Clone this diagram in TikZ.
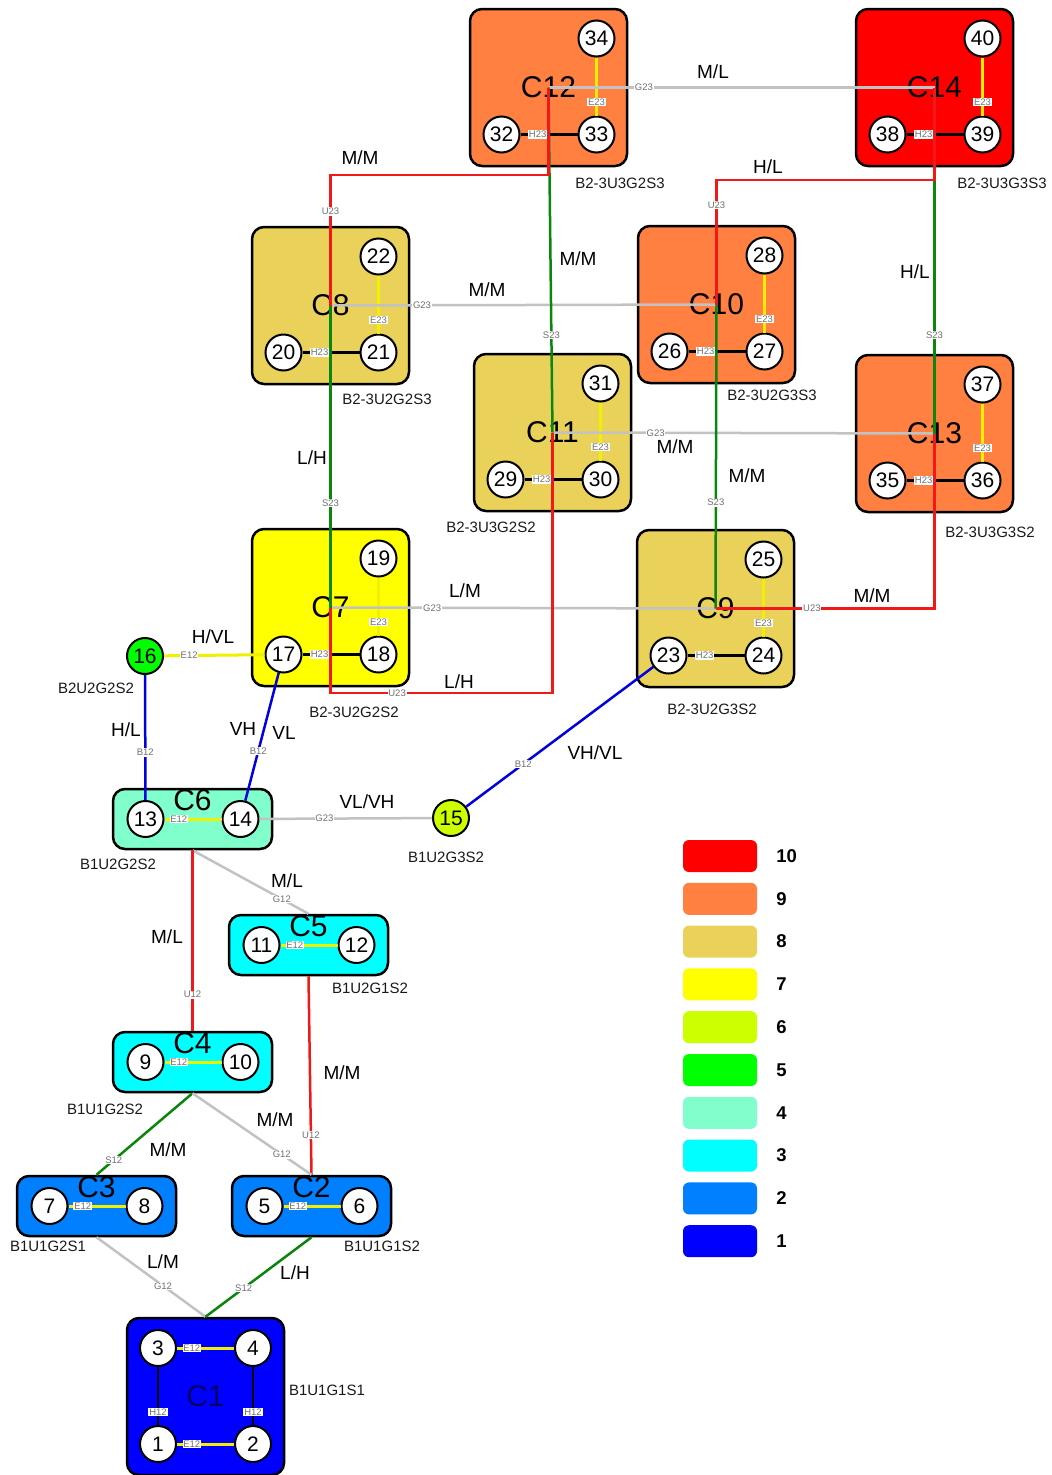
\documentclass[tikz,border=0pt]{standalone}
\usepackage{fontspec}
\setmainfont{Liberation Sans}
\usetikzlibrary{positioning,calc}
\definecolor{lvTen}{HTML}{FF0000}
\definecolor{lvNine}{HTML}{FF8040}
\definecolor{lvEight}{HTML}{EAD25A}
\definecolor{lvSeven}{HTML}{FFFF00}
\definecolor{lvSix}{HTML}{CCFF00}
\definecolor{lvFive}{HTML}{00FF00}
\definecolor{lvFour}{HTML}{80FFCC}
\definecolor{lvThree}{HTML}{00FFFF}
\definecolor{lvTwo}{HTML}{0080FF}
\definecolor{lvOne}{HTML}{0000FF}
\definecolor{lnRed}{HTML}{F01818}
\definecolor{lnGreen}{HTML}{0A870A}
\definecolor{lnBlue}{HTML}{0000E0}
\definecolor{lnGray}{HTML}{C2C2C2}
\definecolor{lnYellow}{HTML}{F0F000}
\definecolor{tagink}{HTML}{707070}
\tikzset{
  sqbox/.style={draw=black,line width=2.5pt,rounded corners=12pt,minimum width=157pt,
    minimum height=157pt,inner sep=0pt,font=\fontsize{30}{32}\selectfont},
  widebox/.style={sqbox,minimum width=159pt,minimum height=60pt},
  ctitle/.style={font=\fontsize{30}{32}\selectfont,inner sep=0pt},
  vtx/.style={circle,draw=black,line width=2pt,fill=white,minimum size=36pt,inner sep=0pt,
    font=\fontsize{21}{22}\selectfont},
  etag/.style={fill=white,text=tagink,inner sep=0.8pt,font=\fontsize{9.5}{10}\selectfont},
  rel/.style={font=\fontsize{19}{20}\selectfont,inner sep=0pt},
  idtext/.style={font=\fontsize{15}{16}\selectfont,text=black!90,inner sep=0pt},
  grayl/.style={draw=lnGray,line width=2.5pt},
  redl/.style={draw=lnRed,line width=2.5pt},
  greenl/.style={draw=lnGreen,line width=2.5pt},
  bluel/.style={draw=lnBlue,line width=2.5pt},
  eline/.style={draw=lnYellow,line width=3pt},
  hbar/.style={draw=black,line width=2.5pt},
  legbox/.style={rounded corners=6pt,minimum width=74pt,minimum height=32pt,inner sep=0pt},
  legnum/.style={font=\fontsize{18.5}{20}\selectfont\bfseries,inner sep=0pt},
}
\begin{document}
\begin{tikzpicture}[x=1pt,y=-1pt]
  \useasboundingbox (0,0) rectangle (1052,1475);
  % square boxes, three nodes each
  \foreach \k/\px/\py/\col/\a/\b/\c in {12/548.5/87.5/lvNine/32/33/34, 14/934.5/87.5/lvTen/38/39/40,
      8/330.5/305.5/lvEight/20/21/22, 10/716.5/304.5/lvNine/26/27/28, 11/552.5/432.5/lvEight/29/30/31,
      13/934.5/433.5/lvNine/35/36/37, 7/330.5/607.5/lvSeven/17/18/19, 9/715.5/608.5/lvEight/23/24/25}{
    \node[sqbox,fill=\col] (c\k) at (\px,\py) {C\k};
    \node[vtx] (n\a) at ($(c\k)+(-47,47)$) {\a};
    \node[vtx] (n\b) at ($(c\k)+(48,47)$) {\b};
    \node[vtx] (n\c) at ($(c\k)+(48,-49)$) {\c};
    \draw[eline] (n\c) -- node[etag,pos=.77]{E23} (n\b);
    \draw[hbar] (n\a) -- node[etag,pos=.3]{H23} (n\b);
  }
  % wide boxes, two nodes each
  \foreach \k/\px/\py/\col/\a/\b in {6/192.5/819/lvFour/13/14, 5/308.5/945/lvThree/11/12,
      4/192.5/1062/lvThree/9/10, 3/96.5/1206/lvTwo/7/8, 2/311.5/1206/lvTwo/5/6}{
    \node[widebox,fill=\col] (c\k) at (\px,\py) {};
    \node[ctitle] (t\k) at ($(c\k)+(0,-18.5)$) {C\k};
    \node[vtx] (n\a) at ($(c\k)+(-47,0)$) {\a};
    \node[vtx] (n\b) at ($(c\k)+(48,0)$) {\b};
    \draw[eline] (n\a) -- node[etag,pos=.25]{E12} (n\b);
  }
  % C1
  \node[sqbox,fill=lvOne,text=lvOne!40!black] (c1) at (205.5,1396.5) {C1};
  \node[vtx] (n3) at ($(c1)+(-47.5,-48.5)$) {3};
  \node[vtx] (n4) at ($(c1)+(47.5,-48.5)$) {4};
  \node[vtx] (n1) at ($(c1)+(-47.5,47.5)$) {1};
  \node[vtx] (n2) at ($(c1)+(47.5,47.5)$) {2};
  \draw[eline] (n3) -- node[etag,pos=.26]{E12} (n4);
  \draw[eline] (n1) -- node[etag,pos=.26]{E12} (n2);
  \draw[hbar] (n3) -- node[etag,pos=.78]{H12} (n1);
  \draw[hbar] (n4) -- node[etag,pos=.78]{H12} (n2);
  % single nodes
  \node[vtx,fill=lvFive] (n16) at (145,656) {16};
  \node[vtx,fill=lvSix] (n15) at (451,818) {15};

  % links between boxes
  \draw[grayl] (c12.center) -- node[etag,pos=.247]{G23} (c14.center);
  \draw[grayl] (c8.center) -- node[etag,pos=.237]{G23} (c10.center);
  \draw[grayl] (c11.center) -- node[etag,pos=.27]{G23} (c13.center);
  \draw[grayl] (c7.center) -- node[etag,pos=.264]{G23} (c9.center);
  \draw[greenl] (c12.center) -- node[etag,pos=.717]{S23} (c11.center);
  \draw[greenl] (c14.center) -- node[etag,pos=.715]{S23} (c13.center);
  \draw[greenl] (c8.center) -- node[etag,pos=.654]{S23} (c7.center);
  \draw[greenl] (c10.center) -- node[etag,pos=.652]{S23} (c9.center);
  \draw[redl] (c12.center) -- ++(0,87.5) -| node[etag,pos=.64]{U23} (c8.center);
  \draw[redl] (c14.center) -- ++(0,92.5) -| node[etag,pos=.6]{U23} (c10.center);
  \draw[redl] (c11.center) -- ++(0,260.5) -| node[etag,pos=.35]{U23} (c7.center);
  \draw[redl] (c13.center) |- node[etag,pos=.78]{U23} (c9.center);
  \draw[eline] (n16) -- node[etag,pos=.25]{E12} (n17);
  \draw[bluel] (n16) -- node[etag,pos=.62]{B12} (n13);
  \draw[bluel] (n17) -- node[etag,pos=.61]{B12} (n14);
  \draw[grayl] (n14) -- node[etag,pos=.376]{G23} (n15);
  \draw[bluel] (n15) -- node[etag,pos=.305]{B12} (n23);
  \draw[grayl] (c6.south) -- node[etag,pos=.77]{G12} (c5.north);
  \draw[redl] (c6.south) -- node[etag,pos=.8]{U12} (c4.north);
  \draw[redl] (c5.south) -- node[etag,pos=.8]{U12} (c2.north);
  \draw[greenl] (c4.south) -- node[etag,pos=.82]{S12} (c3.north);
  \draw[grayl] (c4.south) -- node[etag,pos=.75]{G12} (c2.north);
  \draw[grayl] (c3.south) -- node[etag,pos=.61]{G12} (c1.north);
  \draw[greenl] (c2.south) -- node[etag,pos=.64]{S12} (c1.north);

  % link values
  \node[rel] (r1) at (713,72) {M/L};
  \node[rel] (r2) at (360,158) {M/M};
  \node[rel] (r3) at (578,259) {M/M};
  \node[rel] (r4) at (768,167) {H/L};
  \node[rel] (r5) at (915,272) {H/L};
  \node[rel] (r6) at (487,290) {M/M};
  \node[rel] (r7) at (312,458) {L/H};
  \node[rel] (r8) at (675,447) {M/M};
  \node[rel] (r9) at (747,476) {M/M};
  \node[rel] (r10) at (459,682) {L/H};
  \node[rel] (r11) at (872,596) {M/M};
  \node[rel] (r12) at (465,591) {L/M};
  \node[rel] (r13) at (213,637) {H/VL};
  \node[rel] (r14) at (126,730) {H/L};
  \node[rel] (r15) at (243,729) {VH};
  \node[rel] (r16) at (284,733) {VL};
  \node[rel] (r17) at (367,802) {VL/VH};
  \node[rel] (r18) at (595,753) {VH/VL};
  \node[rel] (r19) at (287,881) {M/L};
  \node[rel] (r20) at (167,937) {M/L};
  \node[rel] (r21) at (342,1073) {M/M};
  \node[rel] (r22) at (275,1120) {M/M};
  \node[rel] (r23) at (168,1150) {M/M};
  \node[rel] (r24) at (163,1262) {L/M};
  \node[rel] (r25) at (295,1273) {L/H};

  % box ids
  \foreach \k/\px/\py/\txt in {c12/620/183/B2-3U3G2S3, c14/1002/183/B2-3U3G3S3, c8/387/399/B2-3U2G2S3,
      c10/772/395/B2-3U2G3S3, c11/491/527/B2-3U3G2S2, c13/990/532/B2-3U3G3S2, c7/354/712/B2-3U2G2S2,
      c9/712/709/B2-3U2G3S2, n16/96/688/B2U2G2S2, c6/118/864/B1U2G2S2, n15/446/857/B1U2G3S2,
      c5/370/988/B1U2G1S2, c4/105/1109/B1U1G2S2, c3/48/1246/B1U1G2S1, c2/382/1246/B1U1G1S2,
      c1/327/1390/B1U1G1S1}{
    \node[idtext] (\k id) at (\px,\py) {\txt};
  }

  % legend
  \foreach \v/\col [count=\i from 0] in {10/lvTen,9/lvNine,8/lvEight,7/lvSeven,6/lvSix,
      5/lvFive,4/lvFour,3/lvThree,2/lvTwo,1/lvOne}{
    \node[legbox,fill=\col] (leg\v) at (720,{856+42.8*\i}) {};
    \node[legnum,anchor=west,right=19pt of leg\v] (legt\v) {\v};
  }
\end{tikzpicture}
\end{document}
